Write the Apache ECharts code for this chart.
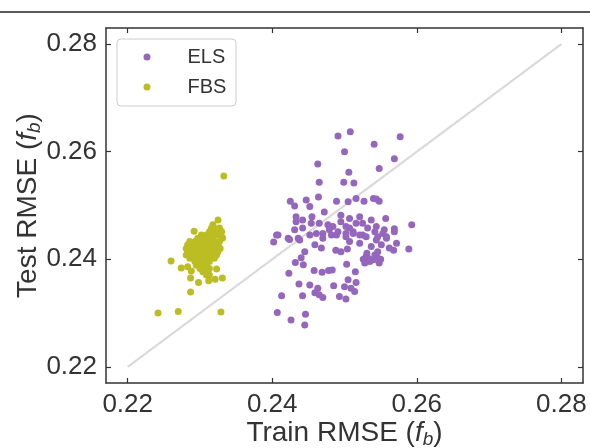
<!DOCTYPE html>
<html>
<head>
<meta charset="utf-8">
<script src="https://cdn.jsdelivr.net/npm/echarts@6/dist/echarts.min.js"></script>
<style>
  html, body { margin: 0; padding: 0; background: #fff; }
  #chart { width: 590px; height: 448px; }
</style>
</head>
<body>
<div id="chart"></div>
<script>
// series names
const seriesNames = ['ELS', 'FBS']
// tick values shared by both axes
const tickValues = [0.22, 0.24, 0.26, 0.28]
// diagonal y = x reference line
const diagonal = [[0.22, 0.22], [0.28, 0.28]]

// ELS: [train RMSE, test RMSE]
const elsPoints = [
  [0.2491, 0.2629], [0.2508, 0.2637], [0.2577, 0.2628], [0.2541, 0.2614], [0.2500, 0.2600],
  [0.2569, 0.2587], [0.2463, 0.2577], [0.2548, 0.2569], [0.2506, 0.2562], [0.2465, 0.2543],
  [0.2499, 0.2543], [0.2513, 0.2542],
  [0.2425, 0.2508], [0.2431, 0.2499], [0.2447, 0.2510], [0.2452, 0.2498], [0.2464, 0.2516],
  [0.2489, 0.2508], [0.2505, 0.2507], [0.2516, 0.2513], [0.2527, 0.2508], [0.2540, 0.2513],
  [0.2548, 0.2508], [0.2544, 0.2512], [0.2557, 0.2476], [0.2593, 0.2464], [0.2569, 0.2457],
  [0.2433, 0.2479], [0.2455, 0.2479], [0.2472, 0.2488],
  [0.2495, 0.2482], [0.2507, 0.2476], [0.2521, 0.2479], [0.2537, 0.2473], [0.2544, 0.2461],
  [0.2555, 0.2455], [0.2433, 0.2470], [0.2442, 0.2473], [0.2431, 0.2455], [0.2442, 0.2458],
  [0.2454, 0.2467], [0.2465, 0.2467], [0.2477, 0.2464], [0.2484, 0.2461], [0.2495, 0.2470],
  [0.2502, 0.2461], [0.2507, 0.2458], [0.2516, 0.2467], [0.2525, 0.2467], [0.2532, 0.2458],
  [0.2542, 0.2451], [0.2553, 0.2448], [0.2558, 0.2439], [0.2406, 0.2445], [0.2422, 0.2439],
  [0.2436, 0.2439], [0.2452, 0.2445], [0.2470, 0.2448], [0.2479, 0.2455], [0.2489, 0.2445],
  [0.2502, 0.2448], [0.2512, 0.2448], [0.2521, 0.2445], [0.2530, 0.2442], [0.2546, 0.2442],
  [0.2408, 0.2445], [0.2402, 0.2432], [0.2424, 0.2437], [0.2438, 0.2436], [0.2461, 0.2448],
  [0.2470, 0.2439], [0.2482, 0.2445], [0.2491, 0.2451], [0.2502, 0.2442], [0.2507, 0.2433],
  [0.2512, 0.2451], [0.2459, 0.2427], [0.2468, 0.2421], [0.2488, 0.2417], [0.2495, 0.2414],
  [0.2504, 0.2419], [0.2445, 0.2414], [0.2440, 0.2403], [0.2432, 0.2394], [0.2443, 0.2390],
  [0.2423, 0.2374], [0.2437, 0.2354], [0.2452, 0.2352], [0.2458, 0.2379], [0.2469, 0.2376],
  [0.2478, 0.2379], [0.2483, 0.2380], [0.2503, 0.2391], [0.2515, 0.2377], [0.2413, 0.2332],
  [0.2442, 0.2332], [0.2463, 0.2346], [0.2459, 0.2338], [0.2465, 0.2334], [0.2470, 0.2329],
  [0.2485, 0.2351], [0.2493, 0.2331], [0.2502, 0.2326], [0.2500, 0.2349], [0.2505, 0.2362],
  [0.2509, 0.2346], [0.2516, 0.2357], [0.2514, 0.2340], [0.2407, 0.2301], [0.2426, 0.2287],
  [0.2446, 0.2298], [0.2445, 0.2278],
  [0.2530, 0.2405], [0.2535, 0.2396], [0.2542, 0.2408], [0.2548, 0.2393], [0.2528, 0.2393],
  [0.2546, 0.2414], [0.2537, 0.2424], [0.2551, 0.2427], [0.2558, 0.2442], [0.2562, 0.2421],
  [0.2568, 0.2417], [0.2572, 0.2430], [0.2589, 0.2419], [0.2569, 0.2451], [0.2544, 0.2436],
  [0.2525, 0.2445], [0.2521, 0.2430], [0.2534, 0.2401], [0.2540, 0.2399], [0.2545, 0.2404],
  [0.2531, 0.2411], [0.2550, 0.2400], [0.2526, 0.2400]
]

// FBS: [train RMSE, test RMSE]
const fbsPoints = [
  [0.2333, 0.2555], [0.2325, 0.2473], [0.2292, 0.2452], [0.2318, 0.2461], [0.2328, 0.2454],
  [0.2331, 0.2440], [0.2260, 0.2397], [0.2274, 0.2384], [0.2283, 0.2386], [0.2288, 0.2378],
  [0.2287, 0.2365], [0.2298, 0.2357], [0.2312, 0.2360], [0.2321, 0.2363], [0.2331, 0.2365],
  [0.2323, 0.2382], [0.2287, 0.2339], [0.2242, 0.2300], [0.2270, 0.2303], [0.2329, 0.2302],
  [0.2318, 0.2464], [0.2316, 0.2458], [0.2327, 0.2458], [0.2313, 0.2451], [0.2320, 0.2451],
  [0.2330, 0.2451], [0.2302, 0.2445], [0.2309, 0.2445], [0.2318, 0.2445], [0.2325, 0.2445],
  [0.2297, 0.2439], [0.2304, 0.2439], [0.2311, 0.2439], [0.2318, 0.2439], [0.2331, 0.2439],
  [0.2286, 0.2433], [0.2293, 0.2433], [0.2300, 0.2433], [0.2306, 0.2433], [0.2313, 0.2433],
  [0.2320, 0.2433], [0.2327, 0.2433], [0.2283, 0.2427], [0.2290, 0.2427], [0.2297, 0.2427],
  [0.2304, 0.2427], [0.2311, 0.2427], [0.2318, 0.2427], [0.2325, 0.2427], [0.2281, 0.2420],
  [0.2288, 0.2420], [0.2295, 0.2420], [0.2302, 0.2420], [0.2309, 0.2420], [0.2316, 0.2420],
  [0.2323, 0.2420], [0.2328, 0.2420], [0.2283, 0.2414], [0.2290, 0.2414], [0.2297, 0.2414],
  [0.2304, 0.2414], [0.2311, 0.2414], [0.2318, 0.2414], [0.2325, 0.2414], [0.2281, 0.2408],
  [0.2288, 0.2408], [0.2295, 0.2408], [0.2302, 0.2408], [0.2309, 0.2408], [0.2316, 0.2408],
  [0.2323, 0.2408], [0.2286, 0.2402], [0.2293, 0.2402], [0.2300, 0.2402], [0.2306, 0.2402],
  [0.2313, 0.2402], [0.2320, 0.2402], [0.2293, 0.2396], [0.2300, 0.2396], [0.2306, 0.2396],
  [0.2313, 0.2396], [0.2295, 0.2389], [0.2302, 0.2389], [0.2309, 0.2389], [0.2300, 0.2383],
  [0.2306, 0.2383], [0.2313, 0.2383], [0.2304, 0.2377], [0.2311, 0.2377], [0.2309, 0.2371],
  [0.2313, 0.2371]
]

const colors = ['#9467bd', '#bcbd22']
const textColor = '#333'
const axisColor = '#333'
const font = 'Liberation Sans, Arial, sans-serif'

function makeAxis (position, showLabel) {
  return {
    type: 'value',
    position: position,
    min: 0.217,
    max: 0.283,
    axisLine: { show: true, onZero: false, lineStyle: { color: axisColor, width: 1.5 } },
    axisTick: {
      show: true, inside: true, length: 5,
      customValues: tickValues,
      lineStyle: { color: axisColor, width: 1.2 }
    },
    axisLabel: {
      show: showLabel,
      customValues: tickValues,
      formatter: v => v.toFixed(2),
      color: textColor, fontSize: 26, fontFamily: font, margin: 9
    },
    splitLine: { show: false }
  }
}

// axis title with italic f and subscript b
const titleStyle = {
  color: textColor, fontSize: 28, fontFamily: font,
  rich: {
    i: { fontStyle: 'italic', fontSize: 28, color: textColor, fontFamily: font },
    s: { fontStyle: 'italic', fontSize: 19, color: textColor, fontFamily: font, verticalAlign: 'bottom', padding: [12, 0, 0, 0] }
  }
}

let xMain = makeAxis('bottom', true)
xMain.name = 'Train RMSE ({i|f}{s|b})'
xMain.nameLocation = 'middle'
xMain.nameGap = 35
xMain.nameMoveOverlap = false
xMain.nameTextStyle = titleStyle
let yMain = makeAxis('left', true)
yMain.name = 'Test RMSE ({i|f}{s|b})'
yMain.nameLocation = 'middle'
yMain.nameGap = 62
yMain.nameMoveOverlap = false
yMain.nameTextStyle = titleStyle

let myCharts = echarts.init(document.getElementById('chart'), null, { renderer: 'canvas' })

myCharts.setOption({
  animation: false,
  backgroundColor: '#fff',
  textStyle: { fontFamily: font },
  grid: { left: 106, right: 7, top: 28, bottom: 65, containLabel: false, outerBoundsMode: 'none' },
  xAxis: [xMain, makeAxis('top', false)],
  yAxis: [yMain, makeAxis('right', false)],
  legend: {
    orient: 'vertical',
    left: 143.5,
    top: 47,
    padding: 0,
    itemWidth: 7,
    itemHeight: 7,
    itemGap: 10,
    icon: 'circle',
    data: seriesNames,
    formatter: name => '{a|' + name + '}',
    textStyle: {
      color: textColor, fontSize: 20, fontFamily: font, lineHeight: 20,
      rich: { a: { color: textColor, fontSize: 20, fontFamily: font, lineHeight: 20, padding: [0, 0, 0, 32] } }
    }
  },
  graphic: [
    { type: 'line', shape: { x1: 0, y1: 12, x2: 590, y2: 12 }, style: { stroke: '#222', lineWidth: 1.5 }, silent: true },
    { type: 'rect', shape: { x: 117, y: 39, width: 119, height: 67, r: 4 }, style: { fill: '#fff', stroke: '#ccc', lineWidth: 1 }, z: 1, silent: true }
  ],
  series: [
    {
      type: 'line',
      data: diagonal,
      symbol: 'none',
      lineStyle: { color: '#d9d9d9', width: 2 },
      z: 1,
      silent: true
    },
    {
      name: seriesNames[0],
      type: 'scatter',
      data: elsPoints,
      symbolSize: 7,
      itemStyle: { color: colors[0], opacity: 1 },
      z: 3
    },
    {
      name: seriesNames[1],
      type: 'scatter',
      data: fbsPoints,
      symbolSize: 7,
      itemStyle: { color: colors[1], opacity: 1 },
      z: 3
    }
  ]
})
</script>
</body>
</html>
